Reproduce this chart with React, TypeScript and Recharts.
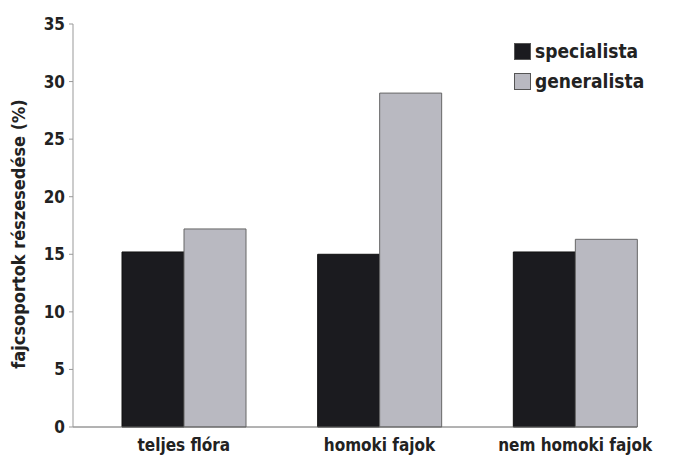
import React from "react";
import { BarChart, Bar, XAxis, YAxis, Label } from "recharts";

const categories = ["teljes flóra", "homoki fajok", "nem homoki fajok"];
const specialista = [15.2, 15.0, 15.2];
const generalista = [17.2, 29.0, 16.3];
const yTicks = [0, 5, 10, 15, 20, 25, 30, 35];

const data = categories.map((name, i) => ({
  name,
  specialista: specialista[i],
  generalista: generalista[i],
}));

const FONT = "'DejaVu Sans Condensed', 'DejaVu Sans', sans-serif";
const DARK = "#1b1b1f";
const LIGHT = "#b9b9c1";

const legendItems = [
  { label: "specialista", color: DARK },
  { label: "generalista", color: LIGHT },
];

const LegendBox = () => (
  <div
    style={{
      position: "absolute",
      top: 36,
      left: 514,
      fontFamily: FONT,
      fontWeight: "bold",
      fontSize: 19,
      color: "#222",
    }}
  >
    {legendItems.map((item) => (
      <div key={item.label} style={{ display: "flex", alignItems: "center", height: 30 }}>
        <div
          style={{
            width: 15,
            height: 15,
            background: item.color,
            border: "1px solid #555",
            marginRight: 4,
          }}
        />
        <span>{item.label}</span>
      </div>
    ))}
  </div>
);

const YLabel = () => {
  const cx = 18;
  const cy = 234;
  return (
    <text
      x={cx}
      y={cy}
      transform={`rotate(-90 ${cx} ${cy})`}
      textAnchor="middle"
      dominantBaseline="central"
      style={{ fontFamily: FONT, fontWeight: "bold", fontSize: 18, fill: "#222" }}
    >
      fajcsoportok részesedése (%)
    </text>
  );
};

export default function App() {
  return (
    <div style={{ position: "absolute", left: 0, top: 0, width: 675, height: 459, background: "#fff" }}>
      <BarChart
        width={675}
        height={459}
        data={data}
        margin={{ top: 24, right: 2, bottom: 2, left: 0 }}
        barCategoryGap={36}
        barGap={0}
      >
        <XAxis
          dataKey="name"
          height={30}
          padding={{ left: 13, right: 0 }}
          axisLine={{ stroke: "#666", strokeDasharray: "564 200" }}
          tickLine={false}
          tick={{ fontFamily: FONT, fontWeight: "bold", fontSize: 17, fill: "#222" }}
          tickMargin={6}
        />
        <YAxis
          width={73}
          domain={[0, 35]}
          ticks={yTicks}
          stroke="#999"
          tickSize={4}
          tickMargin={4}
          tick={{ fontFamily: FONT, fontWeight: "bold", fontSize: 17, fill: "#222" }}
        >
          <Label content={<YLabel />} />
        </YAxis>
        <Bar dataKey="specialista" fill={DARK} stroke="#111" strokeWidth={1} isAnimationActive={false} />
        <Bar dataKey="generalista" fill={LIGHT} stroke="#666" strokeWidth={1} isAnimationActive={false} />
      </BarChart>
      <LegendBox />
    </div>
  );
}
